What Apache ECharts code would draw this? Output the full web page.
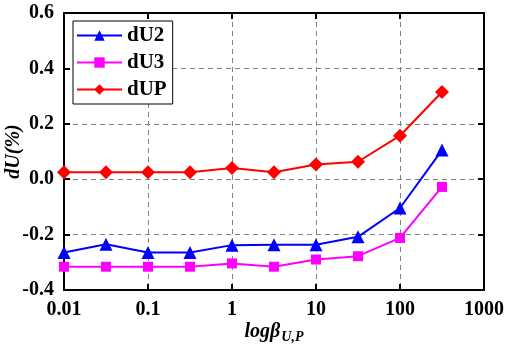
<!DOCTYPE html>
<html>
<head>
<meta charset="utf-8">
<script src="https://cdn.jsdelivr.net/npm/echarts@6/dist/echarts.min.js"></script>
<style>
  html, body { margin: 0; padding: 0; background: #fff; }
  #chart { width: 520px; height: 347px; }
</style>
</head>
<body>
<div id="chart"></div>
<script>
// beta values (log-spaced, half-decade steps)
const betaValues = [0.01, 0.0316, 0.1, 0.316, 1, 3.16, 10, 31.6, 100, 316];
const dU2 = [-0.265, -0.235, -0.265, -0.265, -0.238, -0.237, -0.237, -0.208, -0.104, 0.105];
const dU3 = [-0.316, -0.316, -0.316, -0.316, -0.304, -0.316, -0.290, -0.278, -0.212, -0.028];
const dUP = [0.025, 0.025, 0.025, 0.025, 0.040, 0.025, 0.053, 0.063, 0.157, 0.315];
const xTickLabels = { '0.01': '0.01', '0.1': '0.1', '1': '1', '10': '10', '100': '100', '1000': '1000' };

const FONT = '"Liberation Serif", "Times New Roman", serif';

function pairs(ys) {
  return betaValues.map((x, i) => [x, ys[i]]);
}

function fmtX(v) {
  const key = String(+Number(v).toPrecision(6));
  return xTickLabels[key] !== undefined ? xTickLabels[key] : key;
}

const chart = echarts.init(document.getElementById('chart'), null, { renderer: 'canvas' });

const axisText = { color: '#000', fontFamily: FONT, fontWeight: 'bold', fontSize: 20 };
const frameLine = { show: true, onZero: false, lineStyle: { color: '#000', width: 2 } };
const frameTick = { show: true, inside: true, length: 6, lineStyle: { color: '#000', width: 2 } };
const gridLine = { show: true, lineStyle: { color: '#808080', width: 1, type: [5, 4] } };

chart.setOption({
  animation: false,
  backgroundColor: '#fff',
  grid: { left: 64, right: 36, top: 13, bottom: 57, containLabel: false, outerBoundsMode: 'none' },
  legend: {
    left: 73, top: 21,
    orient: 'vertical',
    itemWidth: 45, itemHeight: 13, itemGap: 6,
    padding: [4, 6, 4, 3],
    borderColor: '#000', borderWidth: 1, borderRadius: 0,
    backgroundColor: '#fff',
    textStyle: { color: '#000', fontFamily: FONT, fontWeight: 'bold', fontSize: 21 },
    data: ['dU2', 'dU3', 'dUP']
  },
  xAxis: [{
    type: 'log', logBase: 10, min: 0.01, max: 1000,
    name: '{m|logβ}{s|U,P}', nameLocation: 'middle', nameGap: 30, nameMoveOverlap: false,
    nameTextStyle: {
      rich: {
        m: { fontFamily: FONT, fontStyle: 'italic', fontWeight: 'bold', fontSize: 20, color: '#000' },
        s: { fontFamily: FONT, fontStyle: 'italic', fontWeight: 'bold', fontSize: 14, color: '#000', verticalAlign: 'bottom', padding: [10, 0, 0, 1] }
      }
    },
    axisLine: frameLine,
    axisTick: frameTick,
    minorTick: { show: false },
    axisLabel: Object.assign({ margin: 10, formatter: fmtX }, axisText),
    splitLine: gridLine
  }, {
    type: 'log', logBase: 10, min: 0.01, max: 1000, position: 'top',
    axisLine: frameLine,
    axisTick: frameTick,
    axisLabel: { show: false },
    splitLine: { show: false }
  }],
  yAxis: [{
    type: 'value', min: -0.4, max: 0.6, interval: 0.2,
    name: 'dU(%)', nameLocation: 'middle', nameGap: 40, nameRotate: 90, nameMoveOverlap: false,
    nameTextStyle: { fontFamily: FONT, fontStyle: 'italic', fontWeight: 'bold', fontSize: 20, color: '#000' },
    axisLine: frameLine,
    axisTick: frameTick,
    axisLabel: Object.assign({ margin: 10, formatter: v => v.toFixed(1) }, axisText),
    splitLine: gridLine
  }, {
    type: 'value', min: -0.4, max: 0.6, interval: 0.2, position: 'right',
    axisLine: frameLine,
    axisTick: frameTick,
    axisLabel: { show: false },
    splitLine: { show: false }
  }],
  series: [{
    name: 'dU2', type: 'line', data: pairs(dU2),
    symbol: 'triangle', symbolSize: 13,
    itemStyle: { color: '#0000ff' },
    lineStyle: { color: '#0000ff', width: 2 }
  }, {
    name: 'dU3', type: 'line', data: pairs(dU3),
    symbol: 'rect', symbolSize: 10,
    itemStyle: { color: '#ff00ff' },
    lineStyle: { color: '#ff00ff', width: 2 }
  }, {
    name: 'dUP', type: 'line', data: pairs(dUP),
    symbol: 'diamond', symbolSize: 14,
    itemStyle: { color: '#ff0000' },
    lineStyle: { color: '#ff0000', width: 2 }
  }]
});
</script>
</body>
</html>
